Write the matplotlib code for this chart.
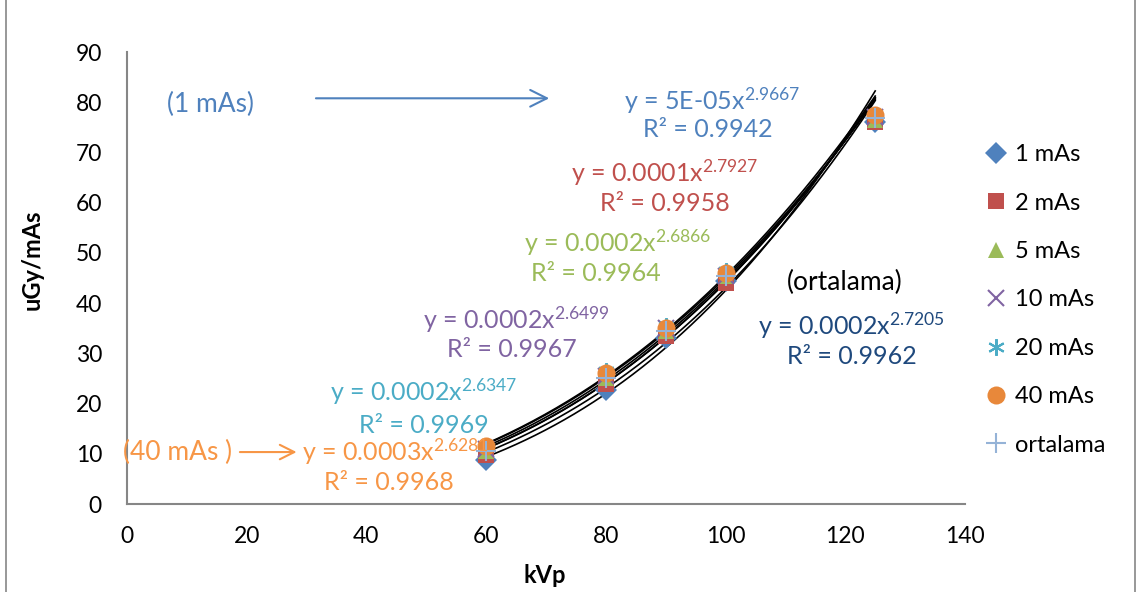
import matplotlib
matplotlib.use('Agg')
import matplotlib.pyplot as plt
from matplotlib.lines import Line2D
import numpy as np

plt.rcParams['font.family'] = ['Lato', 'DejaVu Sans']
plt.rcParams['mathtext.fontset'] = 'custom'
plt.rcParams['mathtext.rm'] = 'Lato'
plt.rcParams['mathtext.it'] = 'Lato'
plt.rcParams['mathtext.default'] = 'rm'

# veri
kvp = [60, 80, 90, 100, 125]
mas_1 = [8.8, 22.8, 33.0, 44.5, 76.0]
mas_2 = [9.8, 24.0, 33.5, 44.0, 76.0]
mas_5 = [10.5, 25.0, 34.5, 45.5, 76.5]
mas_10 = [11.0, 25.5, 35.0, 45.5, 77.0]
mas_20 = [11.5, 26.5, 35.5, 46.5, 77.5]
mas_40 = [11.5, 26.0, 35.0, 46.0, 77.5]
ortalama = [10.6, 25.0, 34.4, 45.4, 76.8]

labels = ['1 mAs', '2 mAs', '5 mAs', '10 mAs', '20 mAs', '40 mAs', 'ortalama']
series = [mas_1, mas_2, mas_5, mas_10, mas_20, mas_40, ortalama]
eq_coef = ['5E-05', '0.0001', '0.0002', '0.0002', '0.0002', '0.0003', '0.0002']
eq_pow = ['2.9667', '2.7927', '2.6866', '2.6499', '2.6347', '2.6281', '2.7205']
eq_r2 = ['0.9942', '0.9958', '0.9964', '0.9967', '0.9969', '0.9968', '0.9962']

colors = ['#4F81BD', '#C0504D', '#9BBB59', '#8064A2', '#4BACC6', '#E8883A', '#95B3D7']
text_colors = ['#4F81BD', '#C0504D', '#9BBB59', '#8064A2', '#4BACC6', '#F79646', '#1F497D']
markers = ['D', 's', '^', 'x', '*', 'o', '+']
msizes = [11, 11, 12, 12, 12, 13, 14]

# etiket yerleri: (x denklem, y denklem, x R2, y R2)
eq_pos = [(97.7, 80.4, 97.1, 74.5), (89.9, 65.9, 89.9, 59.9), (82.0, 52.0, 78.3, 46.0),
          (65.0, 36.6, 64.3, 30.7), (49.6, 22.3, 49.6, 15.7), (44.9, 10.35, 43.8, 4.2),
          (121.1, 35.6, 121.1, 29.3)]

fig = plt.figure(figsize=(11.42, 5.92), dpi=100)
fig.add_artist(Line2D([6 / 1142, 6 / 1142], [0, 1], color='#868686', lw=1.2))
fig.add_artist(Line2D([1135 / 1142, 1135 / 1142], [0, 1], color='#868686', lw=1.2))
ax = fig.add_axes([0.1112, 0.1486, 0.7338, 0.7634])

xx = np.linspace(60, 125, 200)
for i, s in enumerate(series):
    b, a = np.polyfit(np.log(kvp), np.log(s), 1)
    ax.plot(xx, np.exp(a) * xx ** b, color='black', lw=1.2, zorder=2)
for i, s in enumerate(series):
    if markers[i] == '*':
        ax.plot(kvp, s, linestyle='none', marker=(6, 2, 0), markersize=msizes[i],
                markeredgecolor=colors[i], markeredgewidth=1.5, label=labels[i], zorder=3)
    elif markers[i] in ('x', '+'):
        ax.plot(kvp, s, linestyle='none', marker=markers[i], markersize=msizes[i],
                markeredgecolor=colors[i], markeredgewidth=1.5, label=labels[i], zorder=3)
    else:
        ax.plot(kvp, s, linestyle='none', marker=markers[i], markersize=msizes[i],
                color=colors[i], markeredgewidth=0, label=labels[i], zorder=3)

fs = 18
for i in range(7):
    xe, ye, xr, yr = eq_pos[i]
    ax.text(xe, ye, 'y = ' + eq_coef[i] + 'x$^{' + eq_pow[i] + '}$', color=text_colors[i],
            fontsize=fs, ha='center', va='center')
    ax.text(xr, yr, 'R² = ' + eq_r2[i], color=text_colors[i],
            fontsize=fs, ha='center', va='center')

ax.text(13.9, 79.6, '(1 mAs)', color='#4F81BD', fontsize=19, ha='center', va='center')
ax.annotate('', xy=(71.0, 80.8), xytext=(31.1, 80.8),
            arrowprops=dict(arrowstyle='->', color='#4F81BD', lw=1.5, mutation_scale=30))
ax.text(8.5, 10.35, '(40 mAs )', color='#F79646', fontsize=19, ha='center', va='center')
ax.annotate('', xy=(28.8, 10.35), xytext=(18.4, 10.35),
            arrowprops=dict(arrowstyle='->', color='#F79646', lw=1.5, mutation_scale=26))
ax.text(119.9, 44.2, '(ortalama)', color='black', fontsize=19, ha='center', va='center')

ax.set_xlim(0, 140)
ax.set_ylim(0, 90)
ax.set_xticks(range(0, 141, 20))
ax.set_yticks(range(0, 91, 10))
ax.tick_params(axis='both', labelsize=16.5, length=0)
ax.tick_params(axis='y', pad=18)
ax.tick_params(axis='x', pad=16)
for sp in ['top', 'right']:
    ax.spines[sp].set_visible(False)
for sp in ['left', 'bottom']:
    ax.spines[sp].set_color('#868686')
    ax.spines[sp].set_linewidth(1.5)
ax.set_xlabel('kVp', fontsize=17, fontweight='bold')
ax.set_ylabel('uGy/mAs', fontsize=17, fontweight='bold')
ax.xaxis.set_label_coords(0.499, -0.133)
ax.yaxis.set_label_coords(-0.10, 0.54)

leg = ax.legend(loc='upper left', bbox_to_anchor=(1.013, 0.817), frameon=False,
                fontsize=17, labelspacing=1.16, handlelength=0.9, handletextpad=0.35,
                borderaxespad=0)

fig.savefig('out.png', dpi=100)
